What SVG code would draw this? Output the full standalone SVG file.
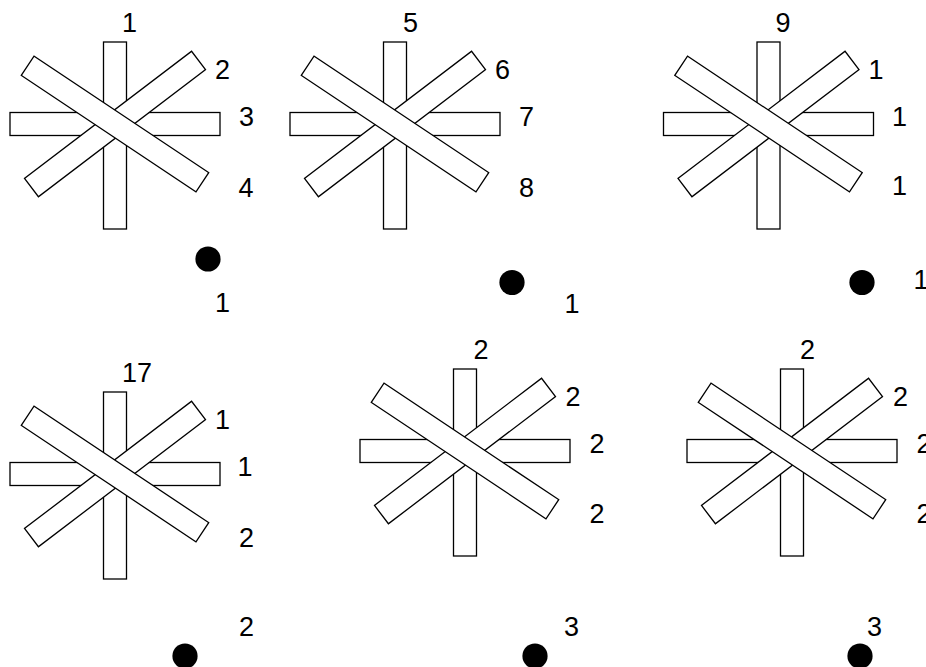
<svg xmlns="http://www.w3.org/2000/svg" xmlns:xlink="http://www.w3.org/1999/xlink" width="926" height="667" viewBox="0 0 926 667">
  <style>
    .bar { fill: #fff; stroke: #000; stroke-width: 1.3; }
    .lbl { font-family: "Liberation Sans", Arial, sans-serif; font-size: 27px; fill: #000; }
    .dot { fill: #000; }
  </style>
  <defs>
    <g id="star">
      <rect class="bar" x="103.5" y="42" width="23" height="187"/>
      <rect class="bar" x="10" y="112.5" width="210" height="23"/>
      <rect class="bar" x="10" y="112.5" width="210" height="23" transform="rotate(-37.3 115 124)"/>
      <rect class="bar" x="10" y="112.5" width="210" height="23" transform="rotate(33.7 115 124)"/>
    </g>
  </defs>
  <rect width="926" height="667" fill="#fff"/>

  <g id="node1">
    <use xlink:href="#star" href="#star" x="0" y="0"/>
    <text class="lbl" x="122" y="32">1</text>
    <text class="lbl" x="215" y="79">2</text>
    <text class="lbl" x="239" y="126">3</text>
    <text class="lbl" x="238.5" y="197">4</text>
    <circle class="dot" cx="208" cy="259" r="12.6"/>
    <text class="lbl" x="215" y="312">1</text>
  </g>

  <g id="node2">
    <use xlink:href="#star" href="#star" x="280" y="0"/>
    <text class="lbl" x="403" y="32">5</text>
    <text class="lbl" x="495" y="79">6</text>
    <text class="lbl" x="519" y="126">7</text>
    <text class="lbl" x="519" y="197">8</text>
    <circle class="dot" cx="512" cy="282.5" r="12.6"/>
    <text class="lbl" x="564.5" y="312.5">1</text>
  </g>

  <g id="node3">
    <use xlink:href="#star" href="#star" x="653.5" y="0"/>
    <text class="lbl" x="775.5" y="32">9</text>
    <text class="lbl" x="868.5" y="79">1</text>
    <text class="lbl" x="892" y="126">1</text>
    <text class="lbl" x="892" y="195">1</text>
    <circle class="dot" cx="862" cy="282.5" r="12.6"/>
    <text class="lbl" x="913.5" y="288.5">1</text>
  </g>

  <g id="node4">
    <use xlink:href="#star" href="#star" x="0" y="350"/>
    <text class="lbl" x="122" y="382">17</text>
    <text class="lbl" x="215" y="429">1</text>
    <text class="lbl" x="237.5" y="476">1</text>
    <text class="lbl" x="239" y="547">2</text>
    <circle class="dot" cx="185" cy="656" r="12.6"/>
    <text class="lbl" x="239" y="636">2</text>
  </g>

  <g id="node5">
    <use xlink:href="#star" href="#star" x="350" y="327"/>
    <text class="lbl" x="473.5" y="358.5">2</text>
    <text class="lbl" x="565.5" y="406">2</text>
    <text class="lbl" x="589.5" y="453">2</text>
    <text class="lbl" x="589.5" y="523">2</text>
    <circle class="dot" cx="535" cy="656" r="12.6"/>
    <text class="lbl" x="564" y="636">3</text>
  </g>

  <g id="node6">
    <use xlink:href="#star" href="#star" x="677" y="327"/>
    <text class="lbl" x="800" y="358.5">2</text>
    <text class="lbl" x="893" y="406">2</text>
    <text class="lbl" x="916.5" y="453">2</text>
    <text class="lbl" x="916.5" y="523">2</text>
    <circle class="dot" cx="860" cy="656" r="12.6"/>
    <text class="lbl" x="867" y="636">3</text>
  </g>

  <g id="connectors"/>
</svg>
